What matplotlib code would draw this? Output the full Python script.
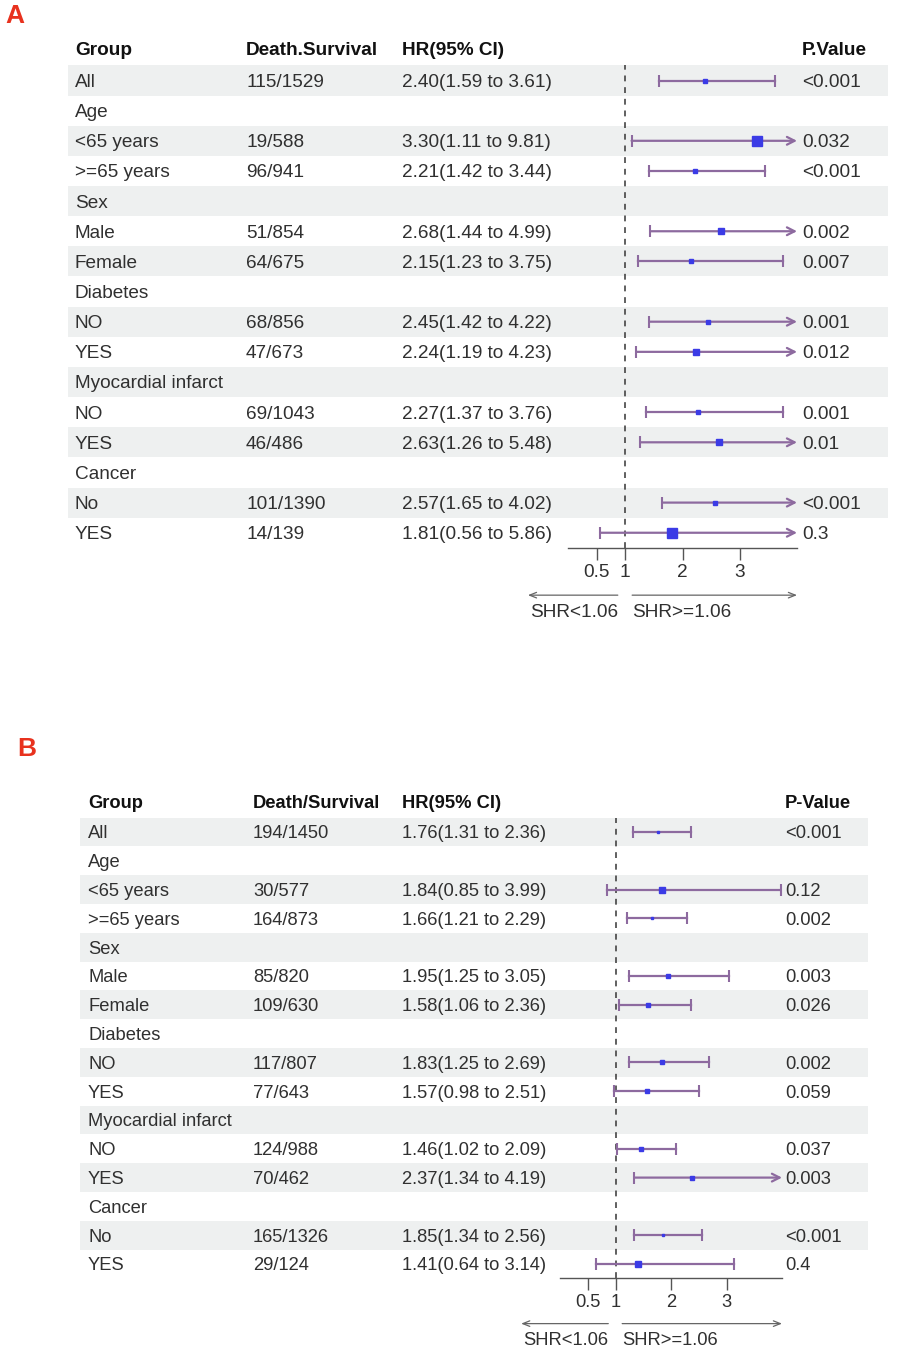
import numpy as np
import matplotlib
matplotlib.use('Agg')
import matplotlib.pyplot as plt

plt.rcParams['font.family'] = ['Liberation Sans', 'DejaVu Sans']

W, H = 901, 1353
nan = np.nan

# ---- data ----
groups = ['All', 'Age', '<65 years', '>=65 years', 'Sex', 'Male', 'Female',
          'Diabetes', 'NO', 'YES', 'Myocardial infarct', 'NO', 'YES',
          'Cancer', 'No', 'YES']

counts_a = ['115/1529', '', '19/588', '96/941', '', '51/854', '64/675', '',
            '68/856', '47/673', '', '69/1043', '46/486', '', '101/1390', '14/139']
hr_a = [2.40, nan, 3.30, 2.21, nan, 2.68, 2.15, nan, 2.45, 2.24, nan, 2.27, 2.63, nan, 2.57, 1.81]
lo_a = [1.59, nan, 1.11, 1.42, nan, 1.44, 1.23, nan, 1.42, 1.19, nan, 1.37, 1.26, nan, 1.65, 0.56]
hi_a = [3.61, nan, 9.81, 3.44, nan, 4.99, 3.75, nan, 4.22, 4.23, nan, 3.76, 5.48, nan, 4.02, 5.86]
p_a = ['<0.001', '', '0.032', '<0.001', '', '0.002', '0.007', '', '0.001', '0.012', '',
       '0.001', '0.01', '', '<0.001', '0.3']

counts_b = ['194/1450', '', '30/577', '164/873', '', '85/820', '109/630', '',
            '117/807', '77/643', '', '124/988', '70/462', '', '165/1326', '29/124']
hr_b = [1.76, nan, 1.84, 1.66, nan, 1.95, 1.58, nan, 1.83, 1.57, nan, 1.46, 2.37, nan, 1.85, 1.41]
lo_b = [1.31, nan, 0.85, 1.21, nan, 1.25, 1.06, nan, 1.25, 0.98, nan, 1.02, 1.34, nan, 1.34, 0.64]
hi_b = [2.36, nan, 3.99, 2.29, nan, 3.05, 2.36, nan, 2.69, 2.51, nan, 2.09, 4.19, nan, 2.56, 3.14]
p_b = ['<0.001', '', '0.12', '0.002', '', '0.003', '0.026', '', '0.002', '0.059', '',
       '0.037', '0.003', '', '<0.001', '0.4']

ticks = [0.5, 1, 2, 3]
ref_line = 1
x_max = 4

LINE_C = '#8d6a9f'
BOX_C = '#3b3be6'
TXT_C = '#303030'
SHADE_C = '#eef0f0'


def draw_panel(fig, letter, letter_xy, y0, dy, cols, headers, shade_x, fx0, fx4,
               counts, hr, lo, hi, pv, fs):
    n = len(groups)
    top_row, bot_row = -2.2, n + 3.2
    top_px = y0 + top_row * dy
    bot_px = y0 + bot_row * dy
    tab = fig.add_axes([0, 1 - bot_px / H, 1, (bot_px - top_px) / H])
    tab.set_xlim(0, W)
    tab.set_ylim(bot_row, top_row)
    tab.axis('off')

    # alternating row shading
    for i in range(0, n, 2):
        tab.fill_between([shade_x[0], shade_x[1]], i - 0.5, i + 0.5,
                         color=SHADE_C, lw=0, zorder=0)

    va = 'center_baseline'
    # headers
    hy = -1.05
    for x, h in zip(cols, headers):
        tab.text(x, hy, h, fontsize=fs, fontweight='bold', va=va, color='#111111')

    for i in range(n):
        tab.text(cols[0], i, groups[i], fontsize=fs, va=va, color=TXT_C)
        tab.text(cols[1], i, counts[i], fontsize=fs, va=va, color=TXT_C)
        if not np.isnan(hr[i]):
            tab.text(cols[2], i, '{:.2f}({:.2f} to {:.2f})'.format(hr[i], lo[i], hi[i]),
                     fontsize=fs, va=va, color=TXT_C)
        tab.text(cols[3], i, pv[i], fontsize=fs, va=va, color=TXT_C)

    # panel letter
    tab.text(letter_xy[0], (letter_xy[1] - y0) / dy, letter, fontsize=19,
             fontweight='bold', color='#e8321e', va='center')

    # forest axes
    fb_px = y0 + (n - 0.5) * dy
    ft_px = y0 - 0.5 * dy
    ax = fig.add_axes([fx0 / W, 1 - fb_px / H, (fx4 - fx0) / W, (fb_px - ft_px) / H])
    ax.patch.set_alpha(0)
    ax.set_xlim(0, x_max)
    ax.set_ylim(n - 0.5, -0.5)
    for s in ['top', 'right', 'left']:
        ax.spines[s].set_visible(False)
    ax.spines['bottom'].set_color('#555555')
    ax.spines['bottom'].set_linewidth(1.0)
    ax.set_yticks([])
    ax.set_xticks(ticks)
    ax.set_xticklabels([('%g' % t) for t in ticks])
    ax.tick_params(axis='x', length=8.5, width=1.0, color='#555555', pad=3,
                   labelsize=fs, labelcolor=TXT_C)

    ax.axvline(ref_line, color='#444444', lw=1.2, dashes=(3.5, 3.5), zorder=1)

    for i in range(n):
        if np.isnan(hr[i]):
            continue
        # box side scales with the standard error of log(HR)
        se = np.log(hi[i] / lo[i]) / 3.92
        side_px = 16.7 * se
        if hi[i] > x_max:
            ax.annotate('', xy=(x_max, i), xytext=(lo[i], i), annotation_clip=False,
                        arrowprops=dict(arrowstyle='->,head_length=0.55,head_width=0.28',
                                        color=LINE_C, lw=1.6, shrinkA=0, shrinkB=0))
            ax.plot([lo[i]], [i], marker='|', ms=8, mew=1.5, color=LINE_C, zorder=2)
        else:
            ax.plot([lo[i], hi[i]], [i, i], color=LINE_C, lw=1.6, zorder=2,
                    marker='|', ms=8, mew=1.5)
        ax.plot([hr[i]], [i], marker='s', ms=side_px * 0.72, color=BOX_C,
                mec=BOX_C, lw=0, zorder=3)

    # direction arrows under the axis
    ay = n + 1.07
    ax.annotate('', xy=(-0.70, ay), xytext=(0.87, ay), annotation_clip=False,
                arrowprops=dict(arrowstyle='->,head_length=0.5,head_width=0.2',
                                color='#666666', lw=0.9, shrinkA=0, shrinkB=0))
    ax.annotate('', xy=(x_max, ay), xytext=(1.12, ay), annotation_clip=False,
                arrowprops=dict(arrowstyle='->,head_length=0.5,head_width=0.2',
                                color='#666666', lw=0.9, shrinkA=0, shrinkB=0))
    ax.text(0.87, n + 1.65, 'SHR<1.06', ha='right', va='center', fontsize=fs,
            color=TXT_C, clip_on=False)
    ax.text(1.12, n + 1.65, 'SHR>=1.06', ha='left', va='center', fontsize=fs,
            color=TXT_C, clip_on=False)


fig = plt.figure(figsize=(W / 100, H / 100), dpi=100)

draw_panel(fig, 'A', (5, 16), 80.5, 30.15,
           [75, 246, 402, 802], ['Group', 'Death.Survival', 'HR(95% CI)', 'P.Value'],
           (68, 888), 568, 797, counts_a, hr_a, lo_a, hi_a, p_a, 13.7)

draw_panel(fig, 'B', (17, 749), 832, 28.8,
           [88, 253, 402, 785], ['Group', 'Death/Survival', 'HR(95% CI)', 'P-Value'],
           (80, 868), 560, 782, counts_b, hr_b, lo_b, hi_b, p_b, 13.2)

fig.savefig('out.png', dpi=100, facecolor='white')
